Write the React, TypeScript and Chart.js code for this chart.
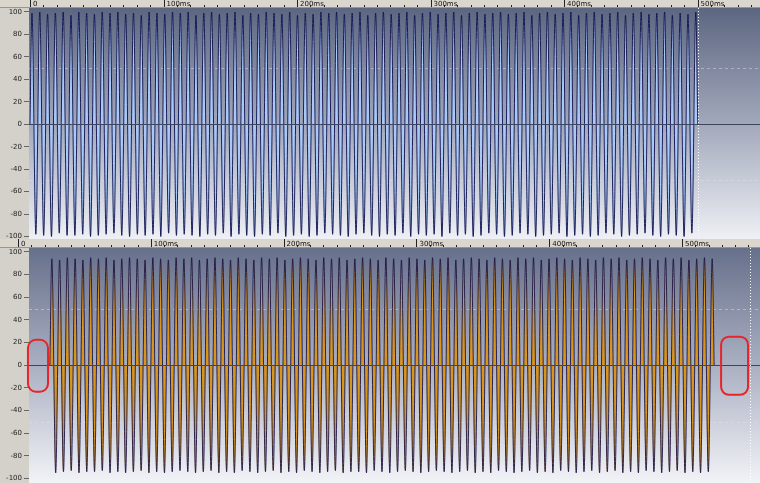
import React, { useEffect, useRef } from 'react';
import { Chart, registerables } from 'chart.js';

Chart.register(...registerables);

// ---- data ----
const HALF_PERIOD_MS = 2.925;
const topStartMs = 0;
const bottomStartMs = 24;

// signed peak value of each half-cycle
const topPeaks = [
  99, -98, 100, -99, 98, -100, 99, -97, 100, -99, 97, -99, 100, -98, 99, -100, 98, -99, 100, -98,
  99, -97, 100, -99, 98, -100, 99, -98, 97, -99, 100, -98, 99, -100, 98, -97, 100, -99, 99, -98,
  100, -99, 97, -100, 99, -98, 100, -99, 98, -97, 99, -100, 100, -98, 97, -99, 99, -100, 98, -98,
  100, -99, 99, -97, 98, -100, 100, -99, 97, -98, 99, -100, 98, -99, 100, -97, 99, -98, 100, -99,
  98, -100, 99, -98, 100, -97, 97, -99, 99, -100, 100, -98, 98, -99, 99, -97, 100, -100, 97, -98,
  99, -99, 100, -98, 98, -100, 99, -97, 100, -99, 97, -98, 99, -100, 100, -99, 98, -97, 99, -98,
  100, -100, 98, -99, 99, -97, 100, -98, 97, -100, 99, -99, 100, -98, 98, -97, 99, -100, 100, -99,
  97, -98, 99, -100, 100, -99, 98, -97, 99, -98, 100, -100, 97, -99, 99, -98, 100, -97, 98, -99,
  99, -100, 100, -98, 97, -99, 99, -100, 98, -97, 100,
];

const bottomPeaks = [
  94, -95, 93, -94, 95, -93, 94, -95, 93, -94, 95, -94, 94, -93, 95, -95, 93, -94, 94, -95,
  95, -94, 94, -93, 93, -95, 95, -94, 94, -95, 93, -94, 95, -93, 94, -94, 95, -95, 93, -94,
  94, -93, 95, -95, 94, -94, 93, -95, 95, -93, 94, -94, 93, -95, 95, -94, 94, -93, 95, -95,
  93, -94, 94, -95, 95, -93, 94, -94, 93, -95, 95, -94, 94, -93, 95, -95, 93, -94, 94, -94,
  95, -95, 94, -93, 93, -94, 95, -95, 94, -94, 93, -93, 95, -94, 94, -95, 93, -94, 95, -93,
  94, -94, 95, -95, 93, -94, 94, -93, 95, -95, 94, -94, 93, -95, 95, -93, 94, -94, 93, -95,
  95, -94, 94, -93, 95, -95, 93, -94, 94, -95, 95, -93, 94, -94, 93, -95, 95, -94, 94, -93,
  93, -95, 95, -94, 94, -93, 95, -95, 93, -94, 94, -95, 95, -93, 94, -94, 93, -95, 95, -94,
  94, -93, 95, -95, 93, -94, 94, -95, 95, -94, 94,
];

const yTickValues = [100, 80, 60, 40, 20, 0, -20, -40, -60, -80, -100];
const rulerMajorMs = [0, 100, 200, 300, 400, 500];
const rulerLabels = ['0', '100ms', '200ms', '300ms', '400ms', '500ms'];
const guideValues = [50, -50];
const topMarkerMs = 500;
const bottomMarkerMs = 551;
const bottomHighlights = [
  { x0: 7.5, x1: 22.6, y0: 22.5, y1: -23.4 },
  { x0: 529.4, x1: 549.7, y0: 25.2, y1: -26.1 },
];

function buildWave(startMs: number, peaks: number[]) {
  const pts: { x: number; y: number }[] = [{ x: startMs, y: 0 }];
  peaks.forEach((v, i) => pts.push({ x: startMs + HALF_PERIOD_MS * (i + 0.5), y: v }));
  pts.push({ x: startMs + HALF_PERIOD_MS * peaks.length, y: 0 });
  return pts;
}

type PanelProps = {
  top: number;
  height: number;
  rulerH: number;
  wave: { x: number; y: number }[];
  fillColor: string;
  lineColor: string;
  lineWidth: number;
  xMin: number;
  xMax: number;
  yMin: number;
  yMax: number;
  markerMs: number;
  gradient: [string, string, string];
  boxes: { x0: number; x1: number; y0: number; y1: number }[];
};

function Panel(p: PanelProps) {
  const ref = useRef<HTMLCanvasElement | null>(null);
  useEffect(() => {
    const canvas = ref.current!;
    const decor = {
      id: 'decor',
      beforeDraw(chart: any) {
        const { ctx, chartArea: a, width } = chart;
        ctx.save();
        ctx.fillStyle = '#d4d1ca';
        ctx.fillRect(0, 0, width, chart.height);
        ctx.fillStyle = '#dad6ce';
        ctx.fillRect(0, 0, width, p.rulerH);
        ctx.fillStyle = '#9a968e';
        ctx.fillRect(0, p.rulerH - 1, width, 1);
        const g = ctx.createLinearGradient(0, a.top, 0, a.bottom);
        g.addColorStop(0, p.gradient[0]);
        g.addColorStop(0.5, p.gradient[1]);
        g.addColorStop(1, p.gradient[2]);
        ctx.fillStyle = g;
        ctx.fillRect(a.left, a.top, a.right - a.left, a.bottom - a.top);
        const ys = chart.scales.y;
        ctx.strokeStyle = 'rgba(225,228,236,0.45)';
        ctx.lineWidth = 1;
        ctx.setLineDash([3, 3]);
        guideValues.forEach((v) => {
          const y = Math.round(ys.getPixelForValue(v)) + 0.5;
          ctx.beginPath();
          ctx.moveTo(a.left, y);
          ctx.lineTo(a.right, y);
          ctx.stroke();
        });
        ctx.restore();
      },
      afterDatasetsDraw(chart: any) {
        const { ctx, chartArea: a, width } = chart;
        const xs = chart.scales.x;
        const ys = chart.scales.y;
        ctx.save();
        const y0 = Math.round(ys.getPixelForValue(0)) + 0.5;
        ctx.strokeStyle = '#3c4460';
        ctx.lineWidth = 1;
        ctx.beginPath();
        ctx.moveTo(a.left, y0);
        ctx.lineTo(a.right, y0);
        ctx.stroke();
        const mx = Math.round(xs.getPixelForValue(p.markerMs)) + 0.5;
        ctx.strokeStyle = '#ffffff';
        ctx.setLineDash([1, 2]);
        ctx.beginPath();
        ctx.moveTo(mx, a.top);
        ctx.lineTo(mx, a.bottom);
        ctx.stroke();
        ctx.setLineDash([]);
        ctx.strokeStyle = '#222';
        for (let ms = 0; ms <= 560; ms += 10) {
          const x = Math.round(xs.getPixelForValue(ms)) + 0.5;
          if (x < 0 || x > width) continue;
          const major = ms % 100 === 0;
          ctx.beginPath();
          ctx.moveTo(x, major ? 0 : p.rulerH - 3);
          ctx.lineTo(x, p.rulerH - 1);
          ctx.stroke();
        }
        ctx.fillStyle = '#111';
        ctx.font = '7px "DejaVu Sans"';
        ctx.textBaseline = 'alphabetic';
        rulerMajorMs.forEach((ms, i) => {
          const x = xs.getPixelForValue(ms);
          ctx.fillText(rulerLabels[i], x + 3, p.rulerH - 2);
        });
        ctx.strokeStyle = '#e8242a';
        ctx.lineWidth = 2;
        p.boxes.forEach((b) => {
          const x0 = xs.getPixelForValue(b.x0);
          const x1 = xs.getPixelForValue(b.x1);
          const yt = ys.getPixelForValue(b.y0);
          const yb = ys.getPixelForValue(b.y1);
          ctx.beginPath();
          (ctx as any).roundRect(x0, yt, x1 - x0, yb - yt, 8);
          ctx.stroke();
        });
        ctx.restore();
      },
    };
    const chart = new Chart(canvas, {
      type: 'line',
      data: {
        datasets: [
          {
            data: p.wave,
            borderColor: p.lineColor,
            borderWidth: p.lineWidth,
            backgroundColor: p.fillColor,
            fill: 'origin',
            pointRadius: 0,
            cubicInterpolationMode: 'monotone',
          } as any,
        ],
      },
      options: {
        animation: false,
        responsive: false,
        devicePixelRatio: 1,
        events: [],
        layout: { padding: { top: p.rulerH, left: 0, right: 0, bottom: 0 } },
        plugins: { legend: { display: false }, tooltip: { enabled: false } },
        scales: {
          x: { type: 'linear', display: false, min: p.xMin, max: p.xMax },
          y: {
            type: 'linear',
            position: 'left',
            min: p.yMin,
            max: p.yMax,
            afterBuildTicks: (s: any) => {
              s.ticks = yTickValues.map((v) => ({ value: v }));
            },
            afterFit: (s: any) => {
              s.width = 29;
              s.paddingTop = 0;
              s.paddingBottom = 0;
            },
            ticks: {
              autoSkip: false,
              padding: 2,
              color: '#222',
              font: { size: 7, family: 'DejaVu Sans' },
            },
            grid: { drawOnChartArea: false, drawTicks: true, tickLength: 5, color: '#666' },
            border: { display: false },
          } as any,
        },
      },
      plugins: [decor],
    });
    return () => chart.destroy();
  }, []);
  return (
    <canvas
      ref={ref}
      width={760}
      height={p.height}
      style={{ position: 'absolute', left: 0, top: p.top, width: 760, height: p.height, display: 'block' }}
    />
  );
}

export default function App() {
  return (
    <div style={{ position: 'absolute', left: 0, top: 0, width: 760, height: 483, overflow: 'hidden', background: '#d4d1ca' }}>
      <Panel
        top={0}
        height={239}
        rulerH={8}
        wave={buildWave(topStartMs, topPeaks)}
        fillColor="#a9c8f6"
        lineColor="#0c0f4a"
        lineWidth={0.9}
        xMin={-0.75}
        xMax={546.8}
        yMin={-102.2}
        yMax={103.56}
        markerMs={topMarkerMs}
        gradient={['#5d6681', '#a2a8bb', '#eef0f5']}
        boxes={[]}
      />
      <Panel
        top={239}
        height={244}
        rulerH={9}
        wave={buildWave(bottomStartMs, bottomPeaks)}
        fillColor="#d8951c"
        lineColor="#1a1448"
        lineWidth={0.9}
        xMin={8.28}
        xMax={558.7}
        yMin={-103.97}
        yMax={103.53}
        markerMs={bottomMarkerMs}
        gradient={['#67708b', '#aab0c2', '#f2f3f7']}
        boxes={bottomHighlights}
      />
    </div>
  );
}
